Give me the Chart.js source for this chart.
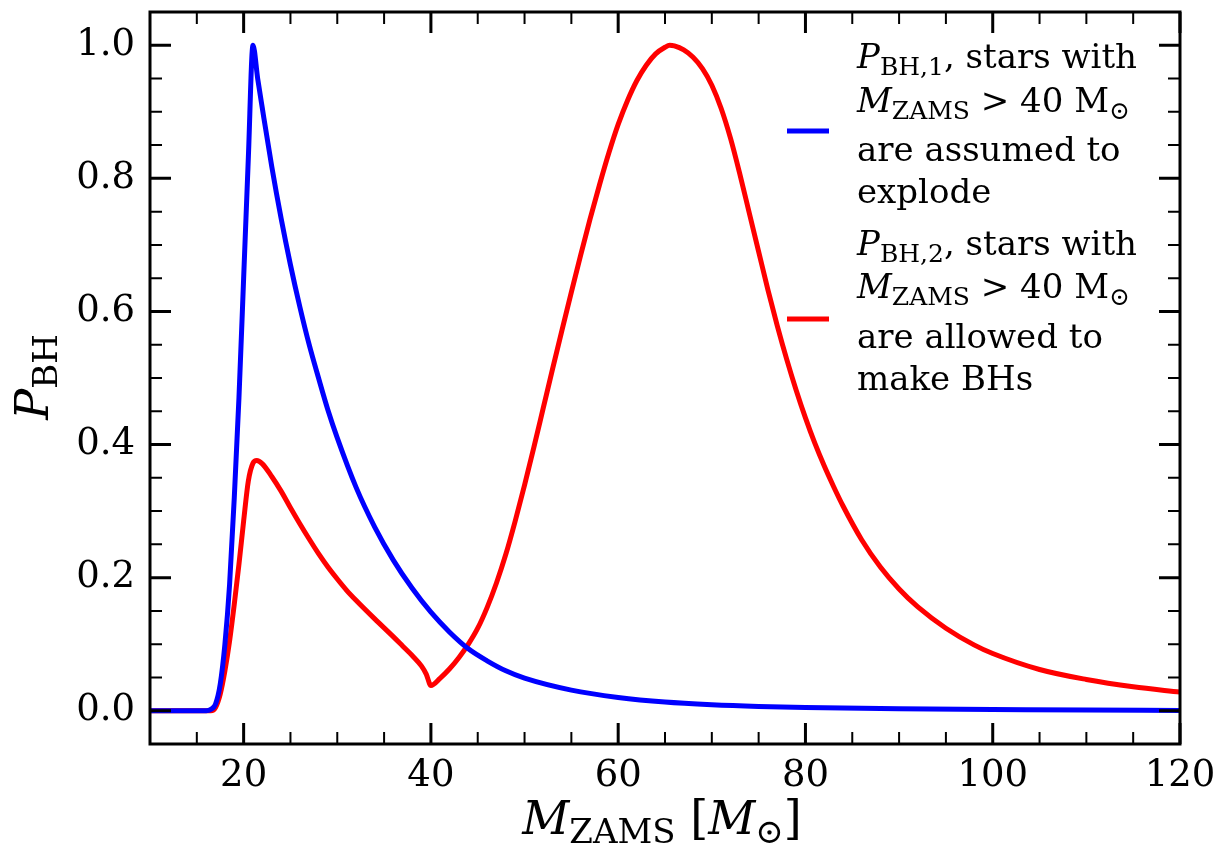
<!DOCTYPE html>
<html>
<head>
<meta charset="utf-8">
<script src="https://cdn.jsdelivr.net/npm/chart.js@4.4.1/dist/chart.umd.min.js"></script>
<style>
  html, body { margin: 0; padding: 0; background: #fff; }
  #wrap { width: 1218px; height: 845px; }
</style>
</head>
<body>
<div id="wrap"><canvas id="chart" width="1218" height="845"></canvas></div>
<script>
// P_BH,1 (blue): stars above 40 Msun are assumed to explode
const massBlue = [10, 16, 16.5, 17, 17.5, 18, 18.5, 19, 19.5, 20, 20.5, 21, 21.5, 22, 23, 24, 25, 26, 27, 28, 29, 30,
    32, 34, 36, 38, 40, 42, 44, 46, 48, 50, 55, 60, 65, 70, 75, 80, 90, 100, 110, 120];
const pBlue = [0, 0, 0.002, 0.01, 0.04, 0.1, 0.19, 0.32, 0.47, 0.65, 0.83, 1.0, 0.95, 0.905, 0.818, 0.74, 0.67, 0.607, 0.55, 0.5, 0.452, 0.41,
    0.336, 0.276, 0.226, 0.184, 0.148, 0.118, 0.093, 0.075, 0.06, 0.049, 0.031, 0.02, 0.013, 0.009, 0.0065, 0.005, 0.003, 0.002, 0.001, 0.0005];

// P_BH,2 (red): stars above 40 Msun are allowed to make BHs
const massRed = [10, 16, 16.5, 17, 17.5, 18, 18.5, 19, 19.5, 20, 20.5, 21, 21.4, 22, 23, 24, 25, 26, 27, 28, 29, 30, 31,
    32, 34, 36, 37, 38, 39, 39.5, 40, 41, 42, 43, 44, 45, 46, 47, 48, 49, 50, 51, 52, 53, 54, 55, 56, 57, 58, 59, 60,
    61, 62, 63, 64, 65, 65.5, 66, 67, 68, 69, 70, 71, 72, 73, 74, 75, 76, 77, 78, 79, 80, 81, 82, 83, 84, 86, 88, 90,
    92, 95, 98, 100, 105, 110, 115, 120];
const pRed = [0, 0, 0, 0.005, 0.025, 0.06, 0.105, 0.16, 0.22, 0.285, 0.345, 0.372, 0.376, 0.371, 0.352, 0.33, 0.305, 0.281, 0.258, 0.236, 0.216, 0.198, 0.181,
    0.166, 0.138, 0.111, 0.097, 0.083, 0.067, 0.055, 0.038, 0.049, 0.063, 0.08, 0.1, 0.124, 0.155, 0.192, 0.235, 0.285, 0.339, 0.396, 0.455, 0.514, 0.572, 0.629, 0.685, 0.739, 0.79, 0.838, 0.881,
    0.917, 0.947, 0.97, 0.987, 0.997, 1.0, 0.999, 0.993, 0.982, 0.965, 0.94, 0.905, 0.86, 0.806, 0.748, 0.69, 0.632, 0.578, 0.528, 0.482, 0.44, 0.402, 0.368, 0.337, 0.308, 0.257, 0.216, 0.183,
    0.156, 0.124, 0.099, 0.086, 0.062, 0.047, 0.036, 0.028];

// axis ticks
const xMajor = [20, 40, 60, 80, 100, 120];
const xMinor = [15, 25, 30, 35, 45, 50, 55, 65, 70, 75, 85, 90, 95, 105, 110, 115];
const yMajor = [0.0, 0.2, 0.4, 0.6, 0.8, 1.0];
const yMinor = [-0.05, 0.05, 0.1, 0.15, 0.25, 0.3, 0.35, 0.45, 0.5, 0.55, 0.65, 0.7, 0.75, 0.85, 0.9, 0.95, 1.05];

const FONT = '"DejaVu Serif", "Liberation Serif", serif';

function toPoints(xs, ys) {
    return xs.map((x, i) => ({ x: x, y: ys[i] }));
}

// draw a run of text pieces; pieces can be italic or subscript
function richText(ctx, pieces, x, y, size, align) {
    const subSize = Math.round(size * 0.74);
    const fontOf = p => (p.it ? 'italic ' : '') + (p.sub ? subSize : size) + 'px ' + FONT;
    let total = 0;
    pieces.forEach(p => { ctx.font = fontOf(p); total += ctx.measureText(p.t).width; });
    let cx = align === 'center' ? x - total / 2 : x;
    ctx.textAlign = 'left';
    ctx.textBaseline = 'alphabetic';
    pieces.forEach(p => {
        ctx.font = fontOf(p);
        ctx.fillText(p.t, cx, y + (p.sub ? size * 0.2 : 0));
        cx += ctx.measureText(p.t).width;
    });
}

function noPad(s) {
    s.paddingLeft = 0; s.paddingRight = 0; s.paddingTop = 0; s.paddingBottom = 0;
}

const frameAndTicks = {
    id: 'frameAndTicks',
    afterDatasetsDraw(chart) {
        const { ctx, chartArea: a, scales } = chart;
        const xs = scales.x, ys = scales.y;
        ctx.save();
        ctx.strokeStyle = '#000';
        const xtick = (list, len, w) => {
            ctx.lineWidth = w;
            list.forEach(v => {
                const px = xs.getPixelForValue(v);
                ctx.beginPath();
                ctx.moveTo(px, a.bottom); ctx.lineTo(px, a.bottom - len);
                ctx.moveTo(px, a.top); ctx.lineTo(px, a.top + len);
                ctx.stroke();
            });
        };
        const ytick = (list, len, w) => {
            ctx.lineWidth = w;
            list.forEach(v => {
                const py = ys.getPixelForValue(v);
                ctx.beginPath();
                ctx.moveTo(a.left, py); ctx.lineTo(a.left + len, py);
                ctx.moveTo(a.right, py); ctx.lineTo(a.right - len, py);
                ctx.stroke();
            });
        };
        xtick(xMajor, 21, 3);
        xtick(xMinor, 12, 2);
        ytick(yMajor, 21, 3);
        ytick(yMinor, 12, 2);
        ctx.lineWidth = 3;
        ctx.strokeRect(a.left, a.top, a.right - a.left, a.bottom - a.top);
        ctx.restore();
    },
    afterDraw(chart) {
        const ctx = chart.ctx;
        ctx.save();
        ctx.fillStyle = '#000';

        // x axis title
        richText(ctx, [
            { t: 'M', it: true }, { t: 'ZAMS', sub: true }, { t: ' [' },
            { t: 'M', it: true }, { t: '\u2299', sub: true }, { t: ']' }
        ], 662, 834, 46, 'center');

        // y axis title
        ctx.save();
        ctx.translate(48, 377);
        ctx.rotate(-Math.PI / 2);
        richText(ctx, [{ t: 'P', it: true }, { t: 'BH', sub: true }], 0, 0, 46, 'center');
        ctx.restore();

        // legend
        const lx = 857, fs = 34;
        const entries = [
            { color: '#0000ff', swatchY: 131, lines: [
                { y: 68, p: [{ t: 'P', it: true }, { t: 'BH,1', sub: true }, { t: ', stars with' }] },
                { y: 112, p: [{ t: 'M', it: true }, { t: 'ZAMS', sub: true }, { t: ' > 40 M' }, { t: '\u2299', sub: true }] },
                { y: 161, p: [{ t: 'are assumed to' }] },
                { y: 203, p: [{ t: 'explode' }] }
            ] },
            { color: '#ff0000', swatchY: 319, lines: [
                { y: 255, p: [{ t: 'P', it: true }, { t: 'BH,2', sub: true }, { t: ', stars with' }] },
                { y: 298, p: [{ t: 'M', it: true }, { t: 'ZAMS', sub: true }, { t: ' > 40 M' }, { t: '\u2299', sub: true }] },
                { y: 348, p: [{ t: 'are allowed to' }] },
                { y: 390, p: [{ t: 'make BHs' }] }
            ] }
        ];
        entries.forEach(e => {
            ctx.strokeStyle = e.color;
            ctx.lineWidth = 5;
            ctx.beginPath();
            ctx.moveTo(787, e.swatchY);
            ctx.lineTo(829, e.swatchY);
            ctx.stroke();
            e.lines.forEach(l => richText(ctx, l.p, lx, l.y, fs, 'left'));
        });
        ctx.restore();
    }
};

const ctx = document.getElementById('chart').getContext('2d');
new Chart(ctx, {
    type: 'line',
    data: {
        datasets: [
            {
                label: 'P_BH,1',
                data: toPoints(massBlue, pBlue),
                borderColor: '#0000ff',
                borderWidth: 5,
                pointRadius: 0,
                cubicInterpolationMode: 'monotone',
                fill: false
            },
            {
                label: 'P_BH,2',
                data: toPoints(massRed, pRed),
                borderColor: '#ff0000',
                borderWidth: 5,
                pointRadius: 0,
                cubicInterpolationMode: 'monotone',
                fill: false
            }
        ]
    },
    options: {
        responsive: false,
        animation: false,
        devicePixelRatio: 1,
        layout: { padding: { top: 12, right: 38, left: 0, bottom: 0 } },
        plugins: {
            legend: { display: false },
            tooltip: { enabled: false }
        },
        scales: {
            x: {
                type: 'linear',
                min: 10,
                max: 120,
                grid: { display: false, drawTicks: false },
                border: { display: false },
                afterBuildTicks: s => { s.ticks = xMajor.map(v => ({ value: v })); },
                afterFit: s => { s.height = 101; noPad(s); },
                ticks: {
                    autoSkip: false,
                    maxRotation: 0,
                    padding: 10,
                    color: '#000',
                    font: { family: FONT, size: 37 },
                    callback: v => String(v)
                }
            },
            y: {
                type: 'linear',
                min: -0.05,
                max: 1.05,
                grid: { display: false, drawTicks: false },
                border: { display: false },
                afterBuildTicks: s => { s.ticks = yMajor.map(v => ({ value: v })); },
                afterFit: s => { s.width = 150; noPad(s); },
                ticks: {
                    autoSkip: false,
                    padding: 15,
                    color: '#000',
                    font: { family: FONT, size: 37 },
                    callback: v => v.toFixed(1)
                }
            }
        }
    },
    plugins: [frameAndTicks]
});
</script>
</body>
</html>
